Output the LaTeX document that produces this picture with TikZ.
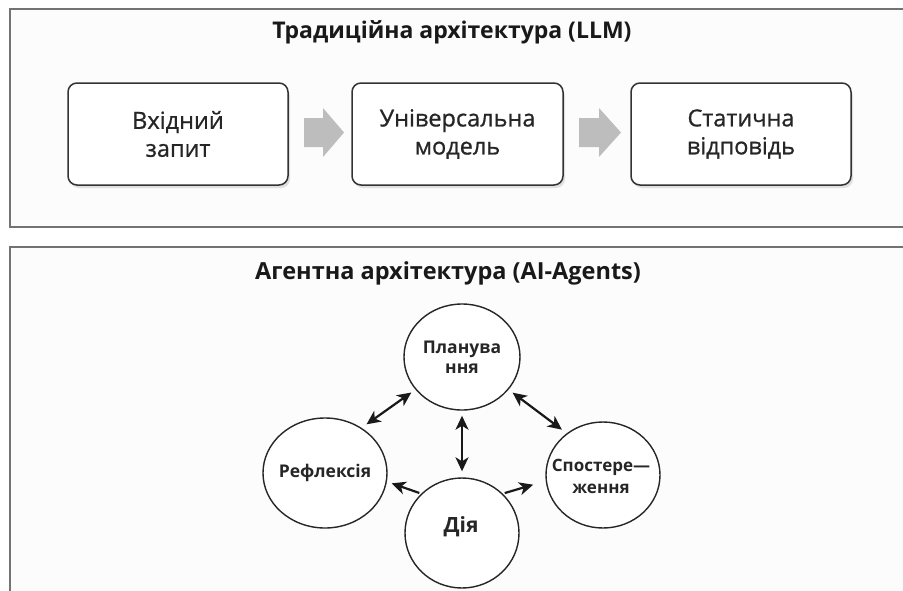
\documentclass[tikz,border=0pt]{standalone}
\usepackage{fontspec}
\setmainfont{Open Sans}
\newfontfamily\semif[FakeBold=0.8]{Open Sans}
\usetikzlibrary{shapes.geometric,arrows.meta}
\begin{document}
\begin{tikzpicture}[x=1pt,y=-1pt,
  panel/.style={draw=black!55,line width=1.6pt,fill=black!1},
  stepbox/.style={draw=black!80,line width=1.5pt,rounded corners=9pt,fill=white,
     minimum width=220pt,minimum height=102pt,align=center,font=\semif\fontsize{23.5}{28}\selectfont,text=black!85},
  flow/.style={fill=black!26,draw=none},
  stage/.style={ellipse,draw=black!85,line width=1.4pt,fill=white,inner sep=0pt},
  stagetext/.style={align=center,text=black!85,font=\bfseries\fontsize{17.5}{20}\selectfont},
  link/.style={line width=2.2pt,draw=black!90,{Stealth[length=14pt,width=13pt,inset=4pt]}-{Stealth[length=14pt,width=13pt,inset=4pt]}},
  onelink/.style={line width=2.2pt,draw=black!90,-{Stealth[length=14pt,width=13pt,inset=4pt]}}
]
\useasboundingbox (0,0) rectangle (903,590);
\clip (0,0) rectangle (903,590);
\fill[white] (0,0) rectangle (903,590);
% panels
\draw[panel] (10,9) rectangle (920,227);
\draw[panel] (10,247) rectangle (920,610);
% titles
\node[font=\bfseries\fontsize{23}{26}\selectfont,text=black!90] (t1) at (452,32) {Традиційна архітектура (LLM)};
\node[font=\bfseries\fontsize{23.5}{26}\selectfont,text=black!90] (t2) at (448,273) {Агентна архітектура (AI-Agents)};
% shadows
\fill[black!12,rounded corners=9pt] (70,87) rectangle (290,188);
\fill[black!12,rounded corners=9pt] (354,87) rectangle (565,188);
\fill[black!12,rounded corners=9pt] (633,87) rectangle (853,188);
% boxes
\node[stepbox] (b1) at (178,134) {Вхідний\\запит};
\node[stepbox,minimum width=211pt] (b2) at (457.5,134) {Універсальна\\модель};
\node[stepbox] (b3) at (741,134) {Статична\\відповідь};
% grey arrows
\fill[flow] (304,118) -- (323,118) -- (323,108) -- (344,132.5) -- (323,157) -- (323,147) -- (304,147) -- cycle;
\fill[flow] (579,118) -- (599,118) -- (599,108) -- (621,132.5) -- (599,157) -- (599,147) -- (579,147) -- cycle;
% agent stages
\node[stage,minimum width=116pt,minimum height=106pt] (plan) at (462,357) {};
\node[stagetext] (plant) at (462,357) {Планува\\ння};
\node[stage,minimum width=124pt,minimum height=110pt] (refl) at (325,473) {};
\node[stagetext] (reflt) at (325,473) {Рефлексія};
\node[stage,minimum width=114pt,minimum height=106pt] (obs) at (603,475) {};
\node[stagetext,font=\bfseries\fontsize{17}{22}\selectfont] (obst) at (601,476) {Спостере—\\ження};
\node[stage,minimum width=114pt,minimum height=110pt] (dia) at (462,533) {};
\node[stagetext,font=\bfseries\fontsize{21}{24}\selectfont] (diat) at (461,527) {Дія};
% connectors
\draw[link,shorten <=5pt,shorten >=6pt] (plan.215) -- (refl.51);
\draw[link,shorten <=5pt,shorten >=6pt] (plan.325) -- (obs.131);
\draw[link,shorten <=5pt,shorten >=6pt] (plan.south) -- (dia.north);
\draw[onelink,shorten <=2pt,shorten >=5pt] (dia.136) -- (refl.-8);
\draw[onelink,shorten <=2pt,shorten >=13pt] (dia.44) -- (obs.186);
\end{tikzpicture}
\end{document}
